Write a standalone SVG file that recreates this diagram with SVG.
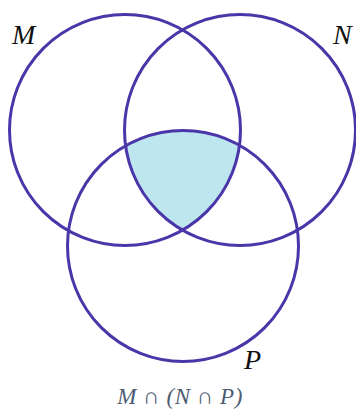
<svg xmlns="http://www.w3.org/2000/svg" width="356" height="410" viewBox="0 0 356 410">
<style>
.c{fill:none;stroke:#4a36a8;stroke-width:3}
.lbl{font-family:"Liberation Serif","DejaVu Serif",serif;font-style:italic;font-size:28px;fill:#111}
.cap{font-family:"Liberation Serif","DejaVu Serif",serif;font-style:italic;font-size:23px;fill:#4d5b73}
</style>
<rect width="356" height="410" fill="#fff"/>
<g id="region">
<path d="M125.6,145.8 A115.5,115.5 0 0 1 239.5,145.3 A115.5,115.5 0 0 1 182.5,230.2 A115.5,115.5 0 0 1 125.6,145.8 Z" fill="#bde6ef"/>
</g>
<g id="M"><circle class="c" cx="125" cy="130" r="115.5"/><text class="lbl" x="12" y="44">M</text></g>
<g id="N"><circle class="c" cx="240" cy="130" r="115.5"/><text class="lbl" x="333" y="44">N</text></g>
<g id="P"><circle class="c" cx="183" cy="246" r="115.5"/><text class="lbl" x="244" y="369">P</text></g>
<text class="cap" x="180" y="404" text-anchor="middle" letter-spacing="0.5">M ∩ (N ∩ P)</text>
</svg>
